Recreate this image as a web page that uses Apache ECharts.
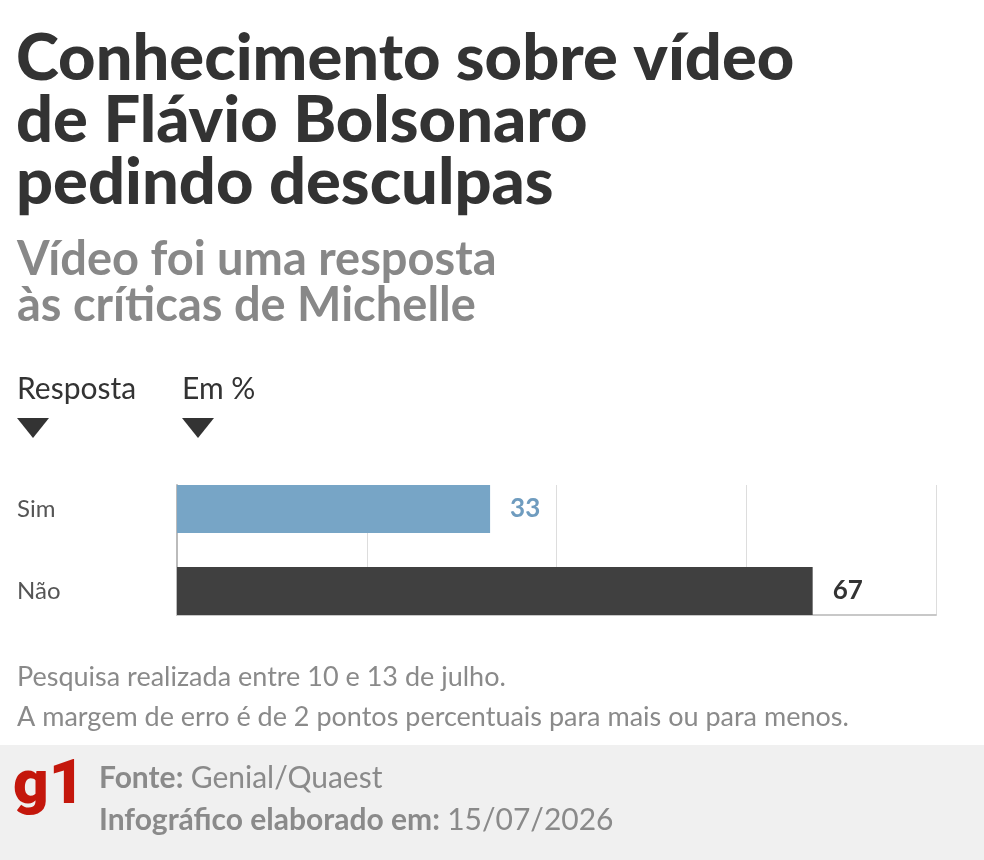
<!DOCTYPE html>
<html><head><meta charset="utf-8">
<script src="https://cdn.jsdelivr.net/npm/echarts@6/dist/echarts.min.js"></script>
<style>html,body{margin:0;padding:0;background:#fff}#c{width:984px;height:860px}</style>
</head><body><div id="c"></div>
<script>
const categories = ['Sim', 'Não'];
const values = [33, 67];
const barColors = ['#77a5c6', '#404040'];
const labelColors = ['#6f9cbf', '#333333'];
const axisMin = 0, axisMax = 80, axisInterval = 20;
const titleLines = ['Conhecimento sobre vídeo', 'de Flávio Bolsonaro', 'pedindo desculpas'];
const subtitleLines = ['Vídeo foi uma resposta', 'às críticas de Michelle'];
const notes = ['Pesquisa realizada entre 10 e 13 de julho.', 'A margem de erro é de 2 pontos percentuais para mais ou para menos.'];

const F = 'Lato, "Noto Sans", sans-serif';
const chart = echarts.init(document.getElementById('c'), null, {renderer: 'canvas'});
const g = [];
g.push({type:'rect', shape:{x:0,y:745,width:984,height:115}, style:{fill:'#f0f0f0'}, silent:true});
titleLines.forEach((t,i)=>g.push({type:'text', left:16, top:27+i*62, style:{text:t, font:'900 65px '+F, fill:'#333333'}}));
subtitleLines.forEach((t,i)=>g.push({type:'text', left:17, top:236+i*46, style:{text:t, font:'700 47px '+F, fill:'#888888'}}));
g.push({type:'text', left:17, top:374, style:{text:'Resposta', font:'400 30px '+F, fill:'#333333'}});
g.push({type:'text', left:182, top:374, style:{text:'Em %', font:'400 30px '+F, fill:'#333333'}});
g.push({type:'polygon', shape:{points:[[17,418],[49,418],[33,438]]}, style:{fill:'#333333'}});
g.push({type:'polygon', shape:{points:[[182,418],[214,418],[198,438]]}, style:{fill:'#333333'}});
notes.forEach((t,i)=>g.push({type:'text', left:17, top:664+i*40, style:{text:t, font:'400 27px '+F, fill:'#8a8a8a'}}));
g.push({type:'text', left:13, top:756, style:{text:'g1', font:'900 62px Roboto, sans-serif', fill:'#c4170c'}});
g.push({type:'text', left:99, top:763, style:{rich:{b:{font:'700 30px '+F, fill:'#8a8a8a'}, r:{font:'400 30px '+F, fill:'#8a8a8a'}}, text:'{b|Fonte: }{r|Genial/Quaest}'}});
g.push({type:'text', left:99, top:805, style:{rich:{b:{font:'700 30px '+F, fill:'#8a8a8a'}, r:{font:'400 30px '+F, fill:'#8a8a8a'}}, text:'{b|Infográfico elaborado em: }{r|15/07/2026}'}});

chart.setOption({
  animation:false,
  textStyle:{fontFamily:F},
  graphic:g,
  grid:[
    {left:177, right:48, top:485, height:130},
    {left:177, right:48, top:468, height:164}
  ],
  xAxis:[
    {gridIndex:0, type:'value', min:axisMin, max:axisMax, interval:axisInterval,
     axisLabel:{show:false}, axisTick:{show:false},
     axisLine:{show:true, lineStyle:{color:'#c8c8c8', width:2}},
     splitLine:{show:true, lineStyle:{color:'#dddddd', width:1}}},
    {gridIndex:1, type:'value', min:axisMin, max:axisMax, interval:axisInterval,
     show:false, splitLine:{show:false}}
  ],
  yAxis:[
    {gridIndex:0, type:'category', data:categories, inverse:true,
     axisLabel:{show:false}, axisTick:{show:false},
     axisLine:{show:true, lineStyle:{color:'#bbbbbb', width:2}}, splitLine:{show:false}},
    {gridIndex:1, type:'category', data:categories, inverse:true,
     axisLine:{show:false}, axisTick:{show:false}, splitLine:{show:false},
     axisLabel:{show:true, align:'left', margin:160, fontSize:24, color:'#555555', fontFamily:F}}
  ],
  series:[{
    type:'bar', xAxisIndex:1, yAxisIndex:1, barWidth:48,
    data: values.map((v,i)=>({value:v, itemStyle:{color:barColors[i]},
      label:{color:labelColors[i]}})),
    label:{show:true, position:'right', distance:20, fontSize:26, fontWeight:700, fontFamily:F}
  }]
});
</script></body></html>
